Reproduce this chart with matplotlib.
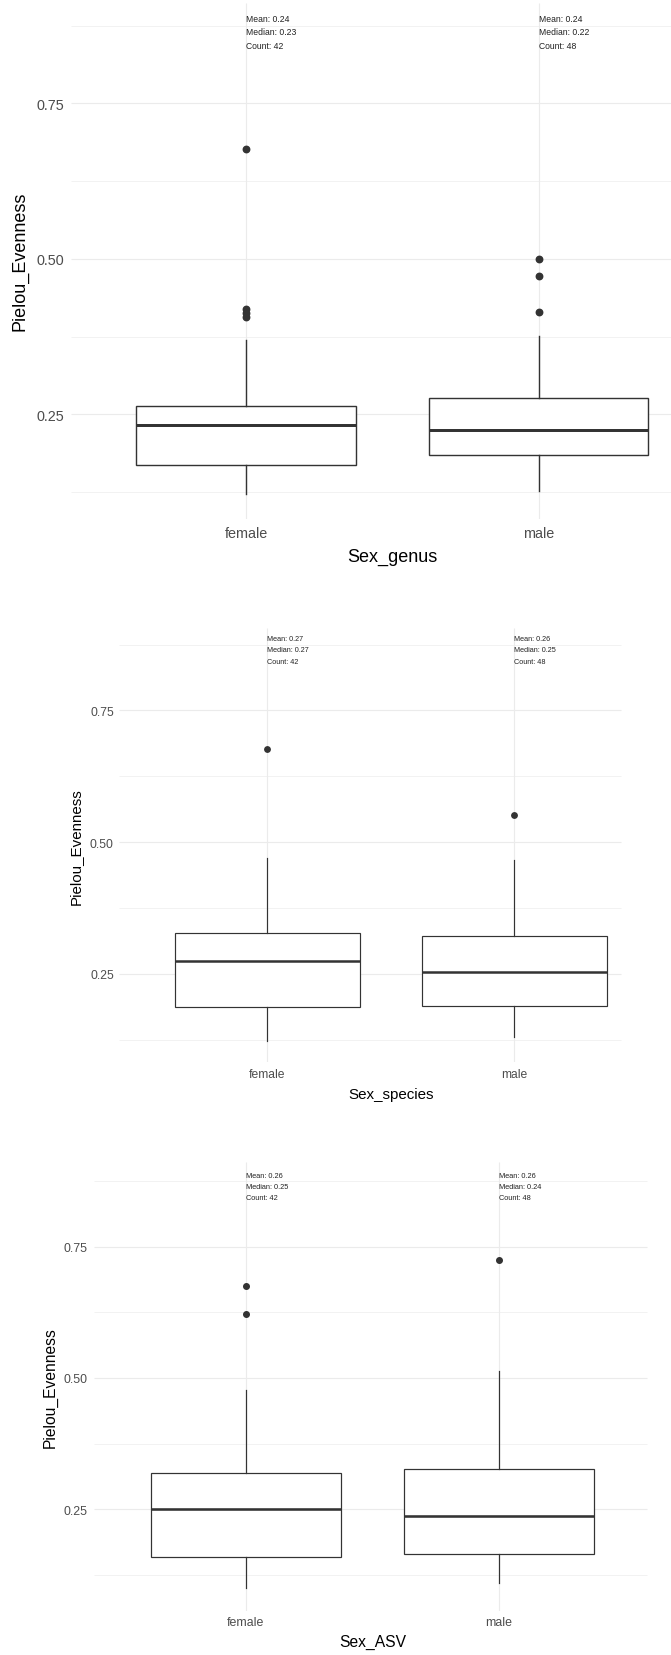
import matplotlib
matplotlib.use("Agg")
import matplotlib.pyplot as plt

plt.rcParams['font.family'] = ['Liberation Sans', 'DejaVu Sans']

W, H = 671, 1656

groups = ['female', 'male']
x_titles = ['Sex_genus', 'Sex_species', 'Sex_ASV']
y_title = 'Pielou_Evenness'

# box statistics per panel: [female, male]
whisker_low = [[0.122, 0.126], [0.123, 0.130], [0.099, 0.110]]
q1 = [[0.169, 0.185], [0.187, 0.189], [0.159, 0.165]]
medians = [[0.233, 0.224], [0.274, 0.254], [0.251, 0.236]]
q3 = [[0.264, 0.276], [0.328, 0.321], [0.319, 0.327]]
whisker_high = [[0.369, 0.376], [0.470, 0.466], [0.477, 0.513]]
outliers = [
    [[0.676, 0.420, 0.413, 0.406], [0.500, 0.472, 0.415]],
    [[0.676], [0.551]],
    [[0.675, 0.621], [0.724]],
]

# summary labels
means = [[0.24, 0.24], [0.27, 0.26], [0.26, 0.26]]
median_labels = [[0.23, 0.22], [0.27, 0.25], [0.25, 0.24]]
counts = [[42, 48], [42, 48], [42, 48]]

# panel layout in pixels: left, right, top, bottom, grid end, ylim, text scale
panels = [
    dict(l=70.6, r=714, t=3.6, b=520, gend=714, ylim=(0.0816, 0.912), s=1.19,
         ylab_x=20, xlab_y=557),
    dict(l=119.4, r=662, t=629.3, b=1063, gend=620.5, ylim=(0.0823, 0.906), s=1.0,
         ylab_x=76, xlab_y=1095),
    dict(l=93.6, r=651, t=1163.3, b=1611.7, gend=646.7, ylim=(0.0563, 0.911), s=1.03,
         ylab_x=50.5, xlab_y=1642),
]

GRID = '#EBEBEB'
BOX = '#333333'
TICK = '#4D4D4D'

fig = plt.figure(figsize=(W / 100, H / 100), dpi=100)

for i, p in enumerate(panels):
    ax = fig.add_axes([p['l'] / W, 1 - p['b'] / H, (p['r'] - p['l']) / W, (p['b'] - p['t']) / H])
    s = p['s']
    ax.set_xlim(0.4, 2.6)
    ax.set_ylim(*p['ylim'])
    for sp in ax.spines.values():
        sp.set_visible(False)

    # horizontal grid stops where the panel was trimmed
    xend = 0.4 + (p['gend'] - p['l']) / (p['r'] - p['l']) * 2.2
    ax.hlines([0.25, 0.5, 0.75], 0.4, xend, color=GRID, lw=0.85, zorder=0)
    ax.hlines([0.125, 0.375, 0.625, 0.875], 0.4, xend, color=GRID, lw=0.45, zorder=0)
    ax.vlines([1, 2], *p['ylim'], color=GRID, lw=0.85, zorder=0)

    stats = []
    for j, g in enumerate(groups):
        stats.append(dict(label=g, whislo=whisker_low[i][j], q1=q1[i][j], med=medians[i][j],
                          q3=q3[i][j], whishi=whisker_high[i][j], fliers=outliers[i][j]))
    ax.bxp(stats, positions=[1, 2], widths=0.75, showcaps=False, patch_artist=True,
           boxprops=dict(facecolor='white', edgecolor=BOX, linewidth=0.85 * s),
           whiskerprops=dict(color=BOX, linewidth=0.85 * s),
           medianprops=dict(color=BOX, linewidth=1.8 * s),
           flierprops=dict(marker='o', markerfacecolor=BOX, markeredgecolor=BOX,
                           markersize=3.9 * s, linestyle='none'))

    for j in range(2):
        lines = ['Mean: %.2f' % means[i][j], 'Median: %.2f' % median_labels[i][j],
                 'Count: %d' % counts[i][j]]
        for k, txt in enumerate(lines):
            ax.text(j + 1, 0.886 - k * 0.0212, txt, ha='left', va='center',
                    fontsize=5.2 * s, color='#222222')

    ax.set_yticks([0.25, 0.5, 0.75])
    ax.set_yticklabels(['0.25', '0.50', '0.75'])
    ax.set_xticks([1, 2])
    ax.set_xticklabels(groups)
    ax.tick_params(length=0, labelsize=8.7 * s, labelcolor=TICK, pad=4 * s)

    fig.text(p['ylab_x'] / W, 1 - (p['t'] + p['b']) / 2 / H, y_title, rotation=90,
             ha='center', va='center', fontsize=10.9 * s)
    fig.text((p['l'] + p['r']) / 2 / W, 1 - p['xlab_y'] / H, x_titles[i],
             ha='center', va='center', fontsize=10.9 * s)

fig.savefig('out.png', dpi=100, facecolor='white')
